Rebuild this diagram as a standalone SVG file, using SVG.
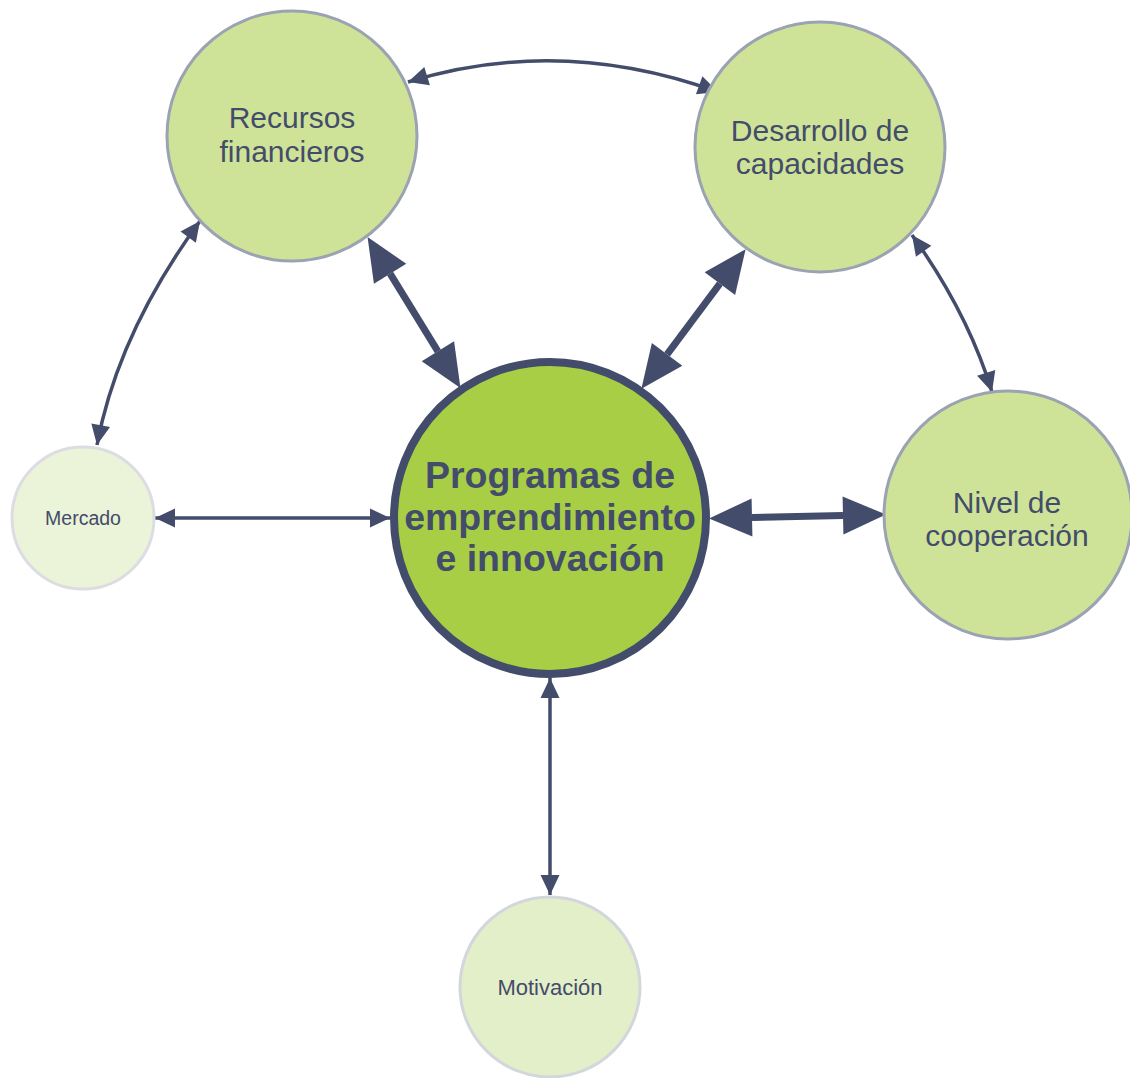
<svg xmlns="http://www.w3.org/2000/svg" width="1130" height="1078" viewBox="0 0 1130 1078">
<style>
.t{font-family:"Liberation Sans",Arial,sans-serif;fill:#434c6a;text-anchor:middle}
.big{fill:#cfe398;stroke:#9ba2b1;stroke-width:3}
.thick{stroke:#434c6a;stroke-width:7;fill:none}
.thin{stroke:#434c6a;stroke-width:3.5;fill:none}
</style>
<defs>
<marker id="hb" markerUnits="userSpaceOnUse" viewBox="0 -20 44 40" markerWidth="44" markerHeight="40" refX="0" refY="0" orient="auto-start-reverse" overflow="visible">
<path d="M0,-19 L43,0 L0,19 z" fill="#434c6a"/>
</marker>
<marker id="hs" markerUnits="userSpaceOnUse" viewBox="0 -10 21 20" markerWidth="21" markerHeight="20" refX="20" refY="0" orient="auto-start-reverse" overflow="visible">
<path d="M0,-9.5 L20,0 L0,9.5 z" fill="#434c6a"/>
</marker>
</defs>
<rect width="1130" height="1078" fill="#ffffff"/>
<g id="connectors">
<path class="thick" d="M390.1,273.7 L437.9,351.3" marker-start="url(#hb)" marker-end="url(#hb)"/>
<path class="thick" d="M719.9,283.6 L667.1,354.4" marker-start="url(#hb)" marker-end="url(#hb)"/>
<path class="thick" d="M752,517.5 L843,515.5" marker-start="url(#hb)" marker-end="url(#hb)"/>
<path class="thin" d="M155,518 L390,518" marker-start="url(#hs)" marker-end="url(#hs)"/>
<path class="thin" d="M550,678 L550,895" marker-start="url(#hs)" marker-end="url(#hs)"/>
<path class="thin" d="M408,82 Q560,35 718,92" marker-start="url(#hs)" marker-end="url(#hs)"/>
<path class="thin" d="M200,221 Q118,333 97,445" marker-start="url(#hs)" marker-end="url(#hs)"/>
<path class="thin" d="M912,235 Q968,313 992,392" marker-start="url(#hs)" marker-end="url(#hs)"/>
</g>
<g id="recursos">
<circle class="big" cx="292" cy="136" r="125"/>
<text class="t" x="292" y="128" font-size="30">Recursos</text>
<text class="t" x="292" y="162" font-size="30">financieros</text>
</g>
<g id="desarrollo">
<circle class="big" cx="820" cy="147" r="125"/>
<text class="t" x="820" y="141" font-size="30">Desarrollo de</text>
<text class="t" x="820" y="174" font-size="30">capacidades</text>
</g>
<g id="nivel">
<circle class="big" cx="1008" cy="515" r="124"/>
<text class="t" x="1007" y="513" font-size="30">Nivel de</text>
<text class="t" x="1007" y="546" font-size="30">cooperación</text>
</g>
<g id="mercado">
<circle cx="83" cy="518" r="71" fill="#ebf3d9" stroke="#dcdde2" stroke-width="3"/>
<text class="t" x="83" y="525" font-size="19.5">Mercado</text>
</g>
<g id="motivacion">
<circle cx="550" cy="987" r="90" fill="#e3efc8" stroke="#d3d6dc" stroke-width="3"/>
<text class="t" x="550" y="995" font-size="22">Motivación</text>
</g>
<g id="programas">
<circle cx="550" cy="518" r="156" fill="#a8ce46" stroke="#434c6a" stroke-width="8"/>
<text class="t" x="550" y="488" font-size="37.5" font-weight="bold">Programas de</text>
<text class="t" x="550" y="530" font-size="37.5" font-weight="bold">emprendimiento</text>
<text class="t" x="550" y="571" font-size="37.5" font-weight="bold">e innovación</text>
</g>
</svg>
